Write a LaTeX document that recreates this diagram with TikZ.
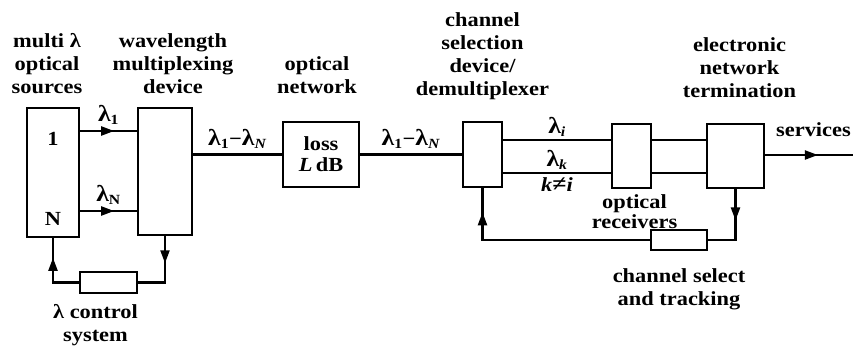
\documentclass[tikz,border=0pt]{standalone}
\usepackage{fontspec}
\setmainfont{Liberation Serif}[FakeStretch=1.12]
\usetikzlibrary{arrows.meta,positioning,decorations.markings}
\newcommand{\wl}[1]{{\fontsize{23}{23}\selectfont λ}\textsubscript{#1}}

\begin{document}
\begin{tikzpicture}[
  x=1pt, y=-1pt,
  font=\fontsize{20}{23}\selectfont\bfseries,
  >={Triangle[length=13pt,width=9pt]},
  line/.style={line width=2.2pt},
  flow/.style={line width=2.2pt, postaction={decorate},
    decoration={markings, mark=at position #1 with {\arrow{>}}}},
  box/.style={draw, line width=2.4pt, inner sep=0pt, align=center},
  caption/.style={align=center, inner sep=0pt},
  tag/.style={inner sep=0pt}
]
\useasboundingbox (0,0) rectangle (853,346);

% blocks
\node[box, minimum width=52pt, minimum height=129pt] (src) at (53,172.5) {};
\node[box, minimum width=54pt, minimum height=127pt] (mux) at (165,171.5) {};
\node[box, minimum width=76pt, minimum height=65pt] (loss) at (321,154.5) {loss\\[-2pt]\textit{L}\,dB};
\node[box, minimum width=39pt, minimum height=65pt] (demux) at (482.5,154.5) {};
\node[box, minimum width=39pt, minimum height=64pt] (rx) at (631.5,156) {};
\node[box, minimum width=57pt, minimum height=64pt] (term) at (735.5,156) {};
\node[box, minimum width=56pt, minimum height=20pt] (csel) at (679,240) {};
\node[box, minimum width=57pt, minimum height=21pt] (lctl) at (108.5,282.5) {};

\node[caption, below=25pt of src.north] (one) {1};
\node[caption, above=13pt of src.south] (enN) {N};

% captions
\node[caption, above=13pt of src, xshift=-6pt] (srcT) {multi λ\\optical\\sources};
\node[caption, above=13pt of mux, xshift=8pt] (muxT) {wavelength\\multiplexing\\device};
\node[caption, above=27pt of loss, xshift=-4pt] (netT) {optical\\network};
\node[caption, above=21pt of demux] (demuxT) {channel\\selection\\device/\\demultiplexer};
\node[caption, above=25pt of term, xshift=4pt] (termT) {electronic\\network\\termination};
\node[caption, below=5pt of rx, xshift=3pt] (rxT) {optical\\[-3pt]receivers};
\node[caption, below=17pt of csel] (cselT) {channel select\\and tracking};
\node[caption, below=10pt of lctl, xshift=-13pt] (lctlT) {λ control\\system};

\coordinate (l1) at (108,131);
\coordinate (lN) at (108,211);
\coordinate (li) at (557,140);
\coordinate (lk) at (557,173);
\coordinate (svc) at (853,155);

% signal paths
\draw[flow=0.6] (src.east |- l1) -- node[tag, above=5pt] {\wl{1}} (mux.west |- l1);
\draw[flow=0.6] (src.east |- lN) -- node[tag, above=5pt] {\wl{N}} (mux.west |- lN);
\draw[line] (mux.east |- loss.west) -- node[tag, above=5pt] {\wl{1}−\wl{\textit{N}}} (loss.west);
\draw[line] (loss) -- node[tag, above=5pt] {\wl{1}−\wl{\textit{N}}} (demux);
\draw[line] (demux.east |- li) -- node[tag, above=2pt] {\wl{\textit{i}}} (rx.west |- li);
\draw[line] (demux.east |- lk) -- node[tag, above=2pt] {\wl{\textit{k}}}
  node[tag, below=4pt] {\textit{k}{\fontsize{23}{23}\selectfont ≠}\textit{i}} (rx.west |- lk);
\draw[line] (rx.east |- li) -- (term.west |- li);
\draw[line] (rx.east |- lk) -- (term.west |- lk);
\draw[flow=0.6] (term.east |- svc) -- node[tag, pos=0.55, above=17pt] {services} (svc);

% feedback loops
\draw[flow=0.4] (term.south) |- (csel.east);
\draw[flow=0.89] (csel.west) -| (demux.south);
\draw[flow=0.37] (mux.south) |- (lctl.east);
\draw[flow=0.72] (lctl.west) -| (src.south);
\end{tikzpicture}
\end{document}
